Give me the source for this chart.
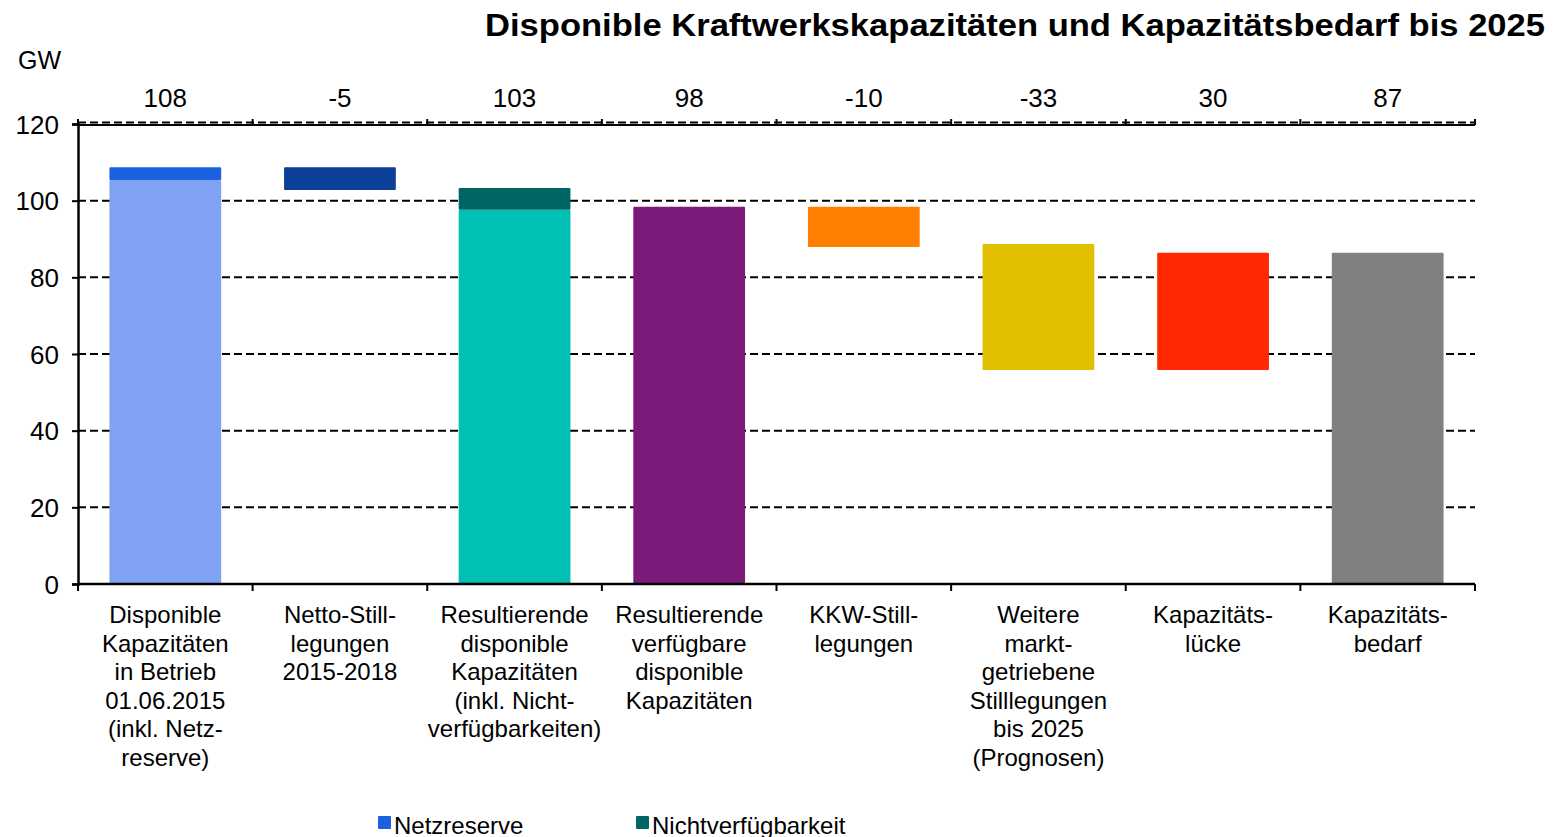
<!DOCTYPE html>
<html>
<head>
<meta charset="utf-8">
<script src="https://cdn.jsdelivr.net/npm/d3@7"></script>
<style>
  body { margin: 0; background: #fff; }
  svg { font-family: "Liberation Sans", Arial, sans-serif; }
</style>
</head>
<body>
<div id="chart"></div>
<script>
// Data
const categories = [
  ["Disponible", "Kapazitäten", "in Betrieb", "01.06.2015", "(inkl. Netz-", "reserve)"],
  ["Netto-Still-", "legungen", "2015-2018"],
  ["Resultierende", "disponible", "Kapazitäten", "(inkl. Nicht-", "verfügbarkeiten)"],
  ["Resultierende", "verfügbare", "disponible", "Kapazitäten"],
  ["KKW-Still-", "legungen"],
  ["Weitere", "markt-", "getriebene", "Stilllegungen", "bis 2025", "(Prognosen)"],
  ["Kapazitäts-", "lücke"],
  ["Kapazitäts-", "bedarf"]
];
const topLabels = ["108", "-5", "103", "98", "-10", "-33", "30", "87"];
// main bar: from low to high (GW)
const barLow = [0, 102.8, 0, 0, 87.9, 55.8, 55.8, 0];
const barHigh = [105.4, 108.7, 97.6, 98.4, 98.4, 88.7, 86.4, 86.4];
// stacked extra segments
const netzreserve = [3.3, 0, 0, 0, 0, 0, 0, 0];
const nichtverfuegbarkeit = [0, 0, 5.7, 0, 0, 0, 0, 0];
const barColors = ["#7fa3f2", "#0c3f97", "#00bfb3", "#7b1a79", "#ff7f00", "#e0c000", "#ff2800", "#808080"];
const yTicks = [0, 20, 40, 60, 80, 100, 120];
const legendItems = [
  { name: "Netzreserve", color: "#1c62e0" },
  { name: "Nichtverfügbarkeit", color: "#006565" }
];

// Dimensions
const dimensions = {
  width: 1559,
  height: 837,
  left: 78,
  right: 1475,
  top: 124,
  bottom: 584
};

const svg = d3
  .select("#chart")
  .append("svg")
  .attr("width", dimensions.width)
  .attr("height", dimensions.height);

// Scales
const xScale = d3
  .scaleBand()
  .domain(d3.range(categories.length))
  .range([dimensions.left, dimensions.right])
  .paddingInner(0.36)
  .paddingOuter(0.18);

const yScale = d3
  .scaleLinear()
  .domain([0, 120])
  .range([dimensions.bottom, dimensions.top]);

const bandWidth = (dimensions.right - dimensions.left) / categories.length;
const bandStart = (i) => dimensions.left + i * bandWidth;

// Title
svg
  .append("text")
  .attr("x", 1545)
  .attr("y", 36)
  .attr("text-anchor", "end")
  .attr("textLength", 1060)
  .attr("lengthAdjust", "spacingAndGlyphs")
  .style("font-size", "32px")
  .style("font-weight", "bold")
  .text("Disponible Kraftwerkskapazitäten und Kapazitätsbedarf bis 2025");

svg
  .append("text")
  .attr("x", 18)
  .attr("y", 69)
  .style("font-size", "25px")
  .text("GW");

// Grid lines (dashed)
svg
  .append("g")
  .selectAll("line")
  .data(yTicks.filter((d) => d > 0))
  .join("line")
  .attr("x1", dimensions.left)
  .attr("x2", dimensions.right)
  .attr("y1", (d) => yScale(d) - (d === 120 ? 1.5 : 0))
  .attr("y2", (d) => yScale(d) - (d === 120 ? 1.5 : 0))
  .attr("stroke", "#000")
  .attr("stroke-width", 2)
  .attr("stroke-dasharray", "8,4");

// Bars
const bars = svg.append("g");
bars
  .selectAll("rect.main")
  .data(categories)
  .join("rect")
  .attr("class", "main")
  .attr("x", (d, i) => xScale(i))
  .attr("width", xScale.bandwidth())
  .attr("y", (d, i) => yScale(barHigh[i]))
  .attr("height", (d, i) => yScale(barLow[i]) - yScale(barHigh[i]))
  .attr("rx", 1)
  .attr("fill", (d, i) => barColors[i]);

const stackSeries = [
  { values: netzreserve, color: legendItems[0].color },
  { values: nichtverfuegbarkeit, color: legendItems[1].color }
];
stackSeries.forEach((s) => {
  bars
    .append("g")
    .selectAll("rect")
    .data(s.values.map((v, i) => ({ v, i })).filter((d) => d.v > 0))
    .join("rect")
    .attr("x", (d) => xScale(d.i))
    .attr("width", xScale.bandwidth())
    .attr("y", (d) => yScale(barHigh[d.i] + d.v))
    .attr("height", (d) => yScale(barHigh[d.i]) - yScale(barHigh[d.i] + d.v))
    .attr("rx", 1)
    .attr("fill", s.color);
});

// Axes
const yAxis = d3
  .axisLeft(yScale)
  .tickValues(yTicks)
  .tickSize(6)
  .tickPadding(13);

const gY = svg
  .append("g")
  .attr("transform", `translate(${dimensions.left},0)`)
  .call(yAxis);
gY.select(".domain").attr("stroke-width", 2.5);
gY.selectAll(".tick line").attr("stroke-width", 2);
gY.selectAll(".tick text")
  .style("font-size", "26px")
  .style("font-family", "Liberation Sans, Arial, sans-serif")
  .attr("fill", "#000")
  .attr("dy", "0.35em");

// bottom & top frame lines
const frame = svg.append("g").attr("stroke", "#000");
frame
  .append("line")
  .attr("x1", dimensions.left)
  .attr("x2", dimensions.right)
  .attr("y1", yScale(0))
  .attr("y2", yScale(0))
  .attr("stroke-width", 2.5);
frame
  .append("line")
  .attr("x1", dimensions.left)
  .attr("x2", dimensions.right)
  .attr("y1", yScale(120) + 1)
  .attr("y2", yScale(120) + 1)
  .attr("stroke-width", 2);

// category boundary ticks
const boundaries = d3.range(categories.length + 1).map(bandStart);
frame
  .selectAll("line.btick")
  .data(boundaries)
  .join("line")
  .attr("class", "btick")
  .attr("x1", (d) => d)
  .attr("x2", (d) => d)
  .attr("y1", yScale(0))
  .attr("y2", yScale(0) + 7)
  .attr("stroke-width", 2);
frame
  .selectAll("line.ttick")
  .data(boundaries)
  .join("line")
  .attr("class", "ttick")
  .attr("x1", (d) => d)
  .attr("x2", (d) => d)
  .attr("y1", yScale(120) + 1)
  .attr("y2", yScale(120) - 5)
  .attr("stroke-width", 2);

// top value labels
svg
  .append("g")
  .selectAll("text")
  .data(topLabels)
  .join("text")
  .attr("x", (d, i) => bandStart(i) + bandWidth / 2)
  .attr("y", 107)
  .attr("text-anchor", "middle")
  .style("font-size", "26px")
  .text((d) => d);

// category labels
const catG = svg
  .append("g")
  .selectAll("text")
  .data(categories)
  .join("text")
  .attr("text-anchor", "middle")
  .style("font-size", "24px");
catG
  .selectAll("tspan")
  .data((d, i) => d.map((line) => ({ line, i })))
  .join("tspan")
  .attr("x", (d) => bandStart(d.i) + bandWidth / 2)
  .attr("y", (d, j) => 623 + j * 28.5)
  .text((d) => d.line);

// Legend
const legend = svg
  .append("g")
  .selectAll("g")
  .data(legendItems)
  .join("g")
  .attr("transform", (d, i) => `translate(${[378, 636][i]},816)`);
legend
  .append("rect")
  .attr("width", 13)
  .attr("height", 13)
  .attr("rx", 1)
  .attr("fill", (d) => d.color);
legend
  .append("text")
  .attr("x", 16)
  .attr("y", 18)
  .style("font-size", "24px")
  .text((d) => d.name);
</script>
</body>
</html>
